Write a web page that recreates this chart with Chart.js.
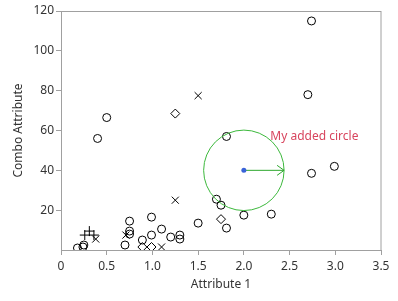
<!DOCTYPE html>
<html>
<head>
<meta charset="utf-8">
<script src="https://cdn.jsdelivr.net/npm/chart.js@4"></script>
<style>
html,body{margin:0;padding:0;background:#fff;}
#wrap{width:398px;height:301px;position:relative;}
</style>
</head>
<body>
<div id="wrap"><canvas id="c" width="398" height="301"></canvas></div>
<script>
// Data
const circleX = [0.50, 0.40, 2.74, 2.70, 2.99, 2.74, 1.81, 1.70, 1.75, 2.00, 2.30, 1.50, 1.81, 0.18, 0.24, 0.25, 0.70, 0.75, 0.75, 0.75, 0.89, 0.99, 0.99, 1.10, 1.20, 1.30, 1.30];
const circleY = [66.5, 56, 115, 78, 42, 38.5, 57, 25.5, 22.5, 17.5, 18, 13.5, 11, 1, 1.5, 2.5, 2.5, 14.5, 9.5, 8, 5, 16.5, 7.5, 10.5, 6.5, 7.5, 5.5];
const plusX = [0.26, 0.31, 0.36];
const plusY = [7.5, 9.5, 7.5];
const crossX = [0.38, 0.71, 1.10, 1.25, 1.50];
const crossY = [5.5, 7.5, 1.5, 25, 77.5];
const diamondX = [0.89, 0.99, 1.25, 1.75];
const diamondY = [1.5, 1.5, 68.5, 15.5];
const xTicks = [0, 0.5, 1, 1.5, 2, 2.5, 3, 3.5];
const yTicks = [20, 40, 60, 80, 100, 120];
const circleCenter = [2.0, 40];
const circleRadiusX = 0.44;
const annotationLabel = "My added circle";
const labelPos = [2.29, 57];

function pts(xs, ys){ return xs.map((x,i)=>({x:x, y:ys[i]})); }

const FONT = '"Segoe UI", "Noto Sans", sans-serif';
const axisColor = '#a0a0a0';
const textColor = '#333';

const framePlugin = {
  id: 'frame',
  beforeDatasetsDraw(chart){
    const {ctx, chartArea:a} = chart;
    ctx.save();
    ctx.strokeStyle = axisColor;
    ctx.lineWidth = 1;
    ctx.strokeRect(Math.round(a.left)+0.5, Math.round(a.top)+0.5, Math.round(a.right-a.left)-0.5, Math.round(a.bottom-a.top));
    ctx.restore();
  }
};

const annotPlugin = {
  id: 'annot',
  afterDatasetsDraw(chart){
    const {ctx, scales:{x, y}} = chart;
    const cx = x.getPixelForValue(circleCenter[0]);
    const cy = y.getPixelForValue(circleCenter[1]);
    const r = x.getPixelForValue(circleCenter[0] + circleRadiusX) - cx;
    ctx.save();
    ctx.strokeStyle = '#3cb83c';
    ctx.lineWidth = 1;
    ctx.beginPath();
    ctx.arc(cx, cy, r, 0, Math.PI*2);
    ctx.stroke();
    // arrow
    ctx.strokeStyle = '#2ea82e';
    ctx.beginPath();
    ctx.moveTo(cx, cy);
    ctx.lineTo(cx + r, cy);
    ctx.moveTo(cx + r - 7, cy - 5);
    ctx.lineTo(cx + r, cy);
    ctx.lineTo(cx + r - 7, cy + 5);
    ctx.stroke();
    // center dot
    ctx.fillStyle = '#3a63d8';
    ctx.beginPath();
    ctx.arc(cx, cy, 2.5, 0, Math.PI*2);
    ctx.fill();
    // label
    ctx.fillStyle = '#d8455e';
    ctx.font = '12px ' + FONT;
    ctx.textAlign = 'left';
    ctx.textBaseline = 'middle';
    ctx.fillText(annotationLabel, x.getPixelForValue(labelPos[0]), y.getPixelForValue(labelPos[1]));
    ctx.restore();
  }
};

const markerBase = {borderColor:'#000', backgroundColor:'rgba(0,0,0,0)', borderWidth:1, pointHoverRadius:4};

new Chart(document.getElementById('c'), {
  type: 'scatter',
  data: {
    datasets: [
      Object.assign({label:'circle', data: pts(circleX, circleY), pointStyle:'circle', pointRadius:4}, markerBase),
      Object.assign({label:'plus', data: pts(plusX, plusY), pointStyle:'cross', pointRadius:5}, markerBase),
      Object.assign({label:'x', data: pts(crossX, crossY), pointStyle:'crossRot', pointRadius:5}, markerBase),
      Object.assign({label:'diamond', data: pts(diamondX, diamondY), pointStyle:'rectRot', pointRadius:4.5}, markerBase)
    ]
  },
  options: {
    responsive: false,
    animation: false,
    events: [],
    layout: {padding: {top: 11, right: 17, left: 0, bottom: 0}},
    plugins: {legend: {display:false}, tooltip:{enabled:false}},
    scales: {
      x: {
        type: 'linear', min: 0, max: 3.5,
        afterBuildTicks(s){ s.ticks = xTicks.map(v=>({value:v})); },
        afterFit(s){ s.height = 51; },
        grid: {drawOnChartArea:false, drawTicks:true, tickLength:5, color:axisColor},
        border: {color: axisColor},
        ticks: {color:textColor, font:{family:FONT, size:12}, padding:4, maxRotation:0},
        title: {display:true, text:'Attribute 1', color:textColor, font:{family:FONT, size:12}, padding:{top:0, bottom:9}}
      },
      y: {
        type: 'linear', min: 0, max: 120,
        afterBuildTicks(s){ s.ticks = yTicks.map(v=>({value:v})); },
        afterFit(s){ s.width = 61; },
        grid: {drawOnChartArea:false, drawTicks:true, tickLength:5, color:axisColor},
        border: {color: axisColor},
        ticks: {color:textColor, font:{family:FONT, size:12}, padding:2},
        title: {display:true, text:'Combo Attribute', color:textColor, font:{family:FONT, size:12}, padding:{top:11, bottom:0}}
      }
    }
  },
  plugins: [framePlugin, annotPlugin]
});
</script>
</body>
</html>
